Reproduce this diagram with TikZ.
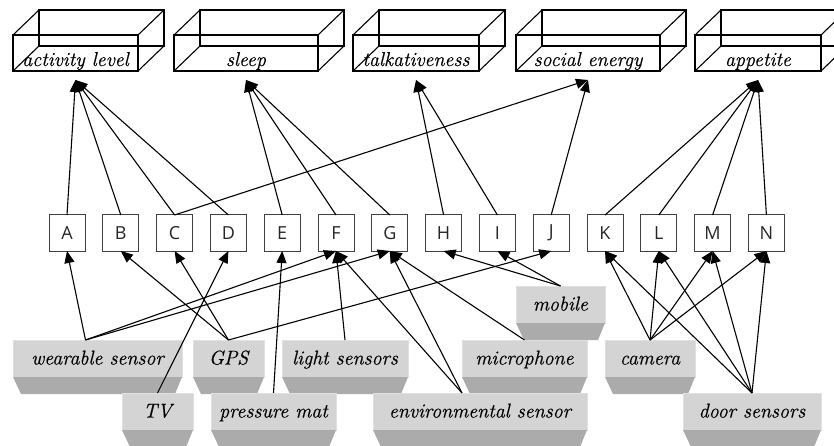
\documentclass[tikz,border=0pt]{standalone}
\usepackage{fontspec}
\newfontfamily\labelfont{Latin Modern Roman}[FakeBold=0.5]
\newfontfamily\letterfont{Open Sans}
\usetikzlibrary{
    arrows.meta,
    calc
}
\definecolor{sensorlight}{gray}{0.83}
\definecolor{sensordark}{gray}{0.67}
\definecolor{sensoredge}{gray}{0.88}
\tikzset{
    % Boxes
    quantity/.style={draw,line width=1.1pt,minimum width=#1,minimum height=36pt,inner sep=0pt,outer sep=0pt,
        text height=30pt,text depth=4pt,font=\labelfont\itshape\fontsize{20}{24}\selectfont},
    cuboid/.style={line width=1.1pt},
    letterbox/.style={draw=black!75,line width=1pt,minimum size=36pt,inner sep=0pt,outer sep=0pt,
        text=black!85,font=\letterfont\fontsize{18}{20}\selectfont},
    sensor/.style={fill=sensorlight,draw=sensoredge,line width=1pt,minimum height=37pt,inner sep=0pt,outer sep=0pt,
        text height=14pt,text depth=2pt,font=\labelfont\itshape\fontsize{20}{24}\selectfont},
    bevel/.style={fill=sensordark},
    %
    % Arrows
    arrow tip/.tip={Triangle[length=12pt,width=10pt]},
    arr/.style={->,>={arrow tip},line width=1.1pt},
}

\begin{document}
\begin{tikzpicture}[x=1pt,y=-1pt]
    \useasboundingbox (0,0) rectangle (834,446);
    % quantities
    \node[quantity=125pt] (activity) at (75.5,53) {activity level};
    \node[quantity=144pt] (sleep) at (246,53) {sleep};
    \node[quantity=126pt] (talk) at (416,53) {talkativeness};
    \node[quantity=144pt] (social) at (588,53) {social energy};
    \node[quantity=126pt] (appetite) at (758,53) {appetite};
    \foreach \b in {activity,sleep,talk,social,appetite} {
        \draw[cuboid] ($(\b.north west)+(26,-25)$) rectangle ($(\b.south east)+(26,-25)$);
        \foreach \c in {north west,north east,south west,south east}
            \draw[cuboid] (\b.\c) -- ++(26,-25);
        \coordinate (\b in) at ($(\b.south)+(0,9)$);
    }
    % features
    \foreach \l [count=\i from 0] in {A,B,C,D,E,F,G,H,I,J,K,L,M,N}
        \node[letterbox] (\l) at (67+53.8*\i,233) {\l};
    % sensors
    \foreach \n/\x/\y/\w/\o/\t in {
            mobile/560.5/304.5/89/0/mobile,
            wearable/97.5/358.5/169/-12/wearable sensor,
            gps/228.5/358.5/71/0/GPS,
            light/345/358.5/126/0/light sensors,
            mic/524.5/358.5/125/0/microphone,
            cam/650/358.5/90/0/camera,
            tv/157.5/411.5/71/0/TV,
            mat/273.5/411.5/125/0/pressure mat,
            env/480/411.5/214/-18/environmental sensor,
            door/752/411.5/138/0/door sensors} {
        \node[sensor,minimum width=\w pt] (\n) at (\x,\y) {\t};
        \fill[bevel] (\n.south west) -- (\n.south east) -- ++(-7,17) -- ($(\n.south west)+(8,17)$) -- cycle;
        \coordinate (\n out) at ($(\n.north)+(\o,0)$);
    }
    % features to quantities
    \foreach \l/\b in {A/activity,B/activity,C/activity,D/activity,E/sleep,F/sleep,G/sleep,
            H/talk,I/talk,C/social,J/social,K/appetite,L/appetite,M/appetite,N/appetite}
        \draw[arr] (\l.north) -- (\b in);
    % sensors to features
    \foreach \s/\l in {wearable/A,wearable/F,wearable/G,gps/B,gps/C,gps/J,tv/D,mat/E,light/F,
            env/F,env/G,mic/G,mobile/H,mobile/I,cam/K,cam/L,cam/M,cam/N,door/K,door/L,door/M,door/N}
        \draw[arr] (\s out) -- (\l.south);
\end{tikzpicture}
\end{document}
